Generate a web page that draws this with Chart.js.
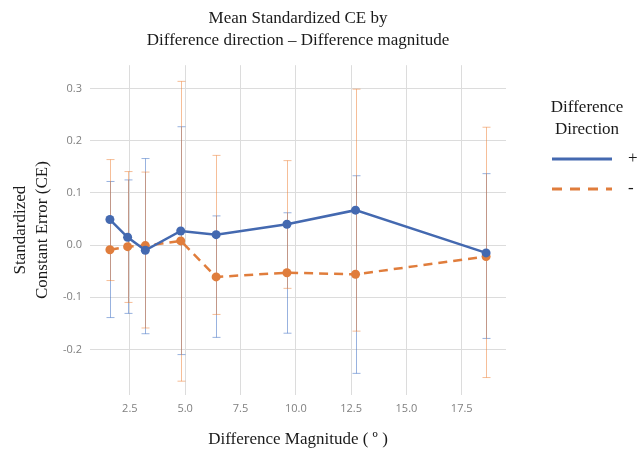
<!DOCTYPE html>
<html>
<head>
<meta charset="utf-8">
<title>Mean Standardized CE</title>
<script src="https://cdn.jsdelivr.net/npm/chart.js@4"></script>
<style>
  html, body { margin: 0; padding: 0; background: #fff; }
  #wrap { position: relative; width: 639px; height: 459px; }
</style>
</head>
<body>
<div id="wrap"><canvas id="ce-chart" width="639" height="459"></canvas></div>
<script>
// difference magnitude (degrees)
const magnitudes = [1.6, 2.4, 3.2, 4.8, 6.4, 9.6, 12.7, 18.6];

// direction "+"
const plusMean  = [0.049, 0.015, -0.010, 0.027, 0.020, 0.040, 0.067, -0.015];
const plusUpper = [0.122, 0.125, 0.166, 0.227, 0.056, 0.062, 0.133, 0.137];
const plusLower = [-0.139, -0.131, -0.170, -0.210, -0.177, -0.169, -0.246, -0.179];

// direction "-"
const minusMean  = [-0.009, -0.003, -0.001, 0.008, -0.061, -0.053, -0.056, -0.022];
const minusUpper = [0.164, 0.141, 0.140, 0.314, 0.172, 0.162, 0.299, 0.226];
const minusLower = [-0.068, -0.110, -0.159, -0.261, -0.133, -0.083, -0.165, -0.254];

const directionLabels = ['+', '-'];
const legendTitle = ['Difference', 'Direction'];

const blue = '#4469b0';
const orange = '#e07d3c';
const serif = "'Liberation Serif', 'DejaVu Serif', serif";
const sans = "'Open Sans', 'Noto Sans', sans-serif";

function toPoints(xs, ys) {
    return xs.map((x, i) => ({ x: x, y: ys[i] }));
}

// error bars, drawn under the lines
const errorBars = {
    id: 'errorBars',
    beforeDatasetsDraw(chart) {
        const ctx = chart.ctx;
        const xs = chart.scales.x;
        const ys = chart.scales.y;
        chart.data.datasets.forEach(ds => {
            ctx.save();
            ctx.strokeStyle = ds.errColor;
            ctx.lineWidth = 1;
            ds.data.forEach((p, i) => {
                const px = Math.round(xs.getPixelForValue(p.x)) + 0.5;
                const top = ys.getPixelForValue(ds.upper[i]);
                const bot = ys.getPixelForValue(ds.lower[i]);
                ctx.beginPath();
                ctx.moveTo(px, top);
                ctx.lineTo(px, bot);
                ctx.moveTo(px - 4, top);
                ctx.lineTo(px + 4, top);
                ctx.moveTo(px - 4, bot);
                ctx.lineTo(px + 4, bot);
                ctx.stroke();
            });
            ctx.restore();
        });
    }
};

// legend on the right side
const sideLegend = {
    id: 'sideLegend',
    afterDraw(chart) {
        const ctx = chart.ctx;
        const left = chart.chartArea.right + 46;
        const cx = left + 35;
        ctx.save();
        ctx.fillStyle = '#1a1a1a';
        ctx.font = '17px ' + serif;
        ctx.textAlign = 'center';
        ctx.textBaseline = 'middle';
        legendTitle.forEach((t, i) => ctx.fillText(t, cx, 108 + i * 22));
        chart.data.datasets.forEach((ds, i) => {
            const y = 159 + i * 30;
            ctx.strokeStyle = ds.borderColor;
            ctx.lineWidth = 3;
            ctx.setLineDash(ds.legendDash || []);
            ctx.beginPath();
            ctx.moveTo(left, y);
            ctx.lineTo(left + 60, y);
            ctx.stroke();
            ctx.setLineDash([]);
            ctx.textAlign = 'left';
            ctx.fillText(directionLabels[i], left + 76, y);
        });
        ctx.restore();
    }
};

const ctx = document.getElementById('ce-chart').getContext('2d');
new Chart(ctx, {
    type: 'line',
    data: {
        datasets: [
            {
                label: directionLabels[0],
                data: toPoints(magnitudes, plusMean),
                upper: plusUpper,
                lower: plusLower,
                errColor: 'rgba(68, 114, 196, 0.55)',
                borderColor: blue,
                backgroundColor: blue,
                borderWidth: 2.5,
                pointRadius: 4.5,
                pointBorderWidth: 0,
                tension: 0
            },
            {
                label: directionLabels[1],
                data: toPoints(magnitudes, minusMean),
                upper: minusUpper,
                lower: minusLower,
                errColor: 'rgba(237, 125, 49, 0.5)',
                borderColor: orange,
                backgroundColor: orange,
                borderWidth: 2.5,
                borderDash: [9, 6],
                legendDash: [10, 8],
                pointRadius: 4.5,
                pointBorderWidth: 0,
                tension: 0
            }
        ]
    },
    options: {
        responsive: false,
        animation: false,
        layout: { padding: { left: 0, right: 133, top: 0, bottom: 0 } },
        plugins: {
            legend: { display: false },
            tooltip: { enabled: false },
            title: {
                display: true,
                fullSize: false,
                text: ['Mean Standardized CE by', 'Difference direction \u2013 Difference magnitude'],
                color: '#1a1a1a',
                font: { family: serif, size: 17, weight: 'normal', lineHeight: 1.3 },
                padding: { top: 7, bottom: 14 }
            }
        },
        scales: {
            x: {
                type: 'linear',
                min: 0.7,
                max: 19.5,
                afterFit(scale) { scale.height = 64; },
                border: { display: false },
                grid: { color: '#dcdcdc', drawTicks: false },
                ticks: {
                    stepSize: 2.5,
                    includeBounds: false,
                    padding: 7,
                    color: '#808080',
                    font: { family: sans, size: 11 },
                    callback: v => v.toFixed(1)
                },
                title: {
                    display: true,
                    text: 'Difference Magnitude ( \u00ba )',
                    color: '#1a1a1a',
                    font: { family: serif, size: 17, lineHeight: 1.3 },
                    padding: { top: 0, bottom: 8 }
                }
            },
            y: {
                min: -0.2875,
                max: 0.345,
                afterFit(scale) { scale.width = 90; },
                border: { display: false },
                grid: { color: '#dcdcdc', drawTicks: false },
                ticks: {
                    stepSize: 0.1,
                    includeBounds: false,
                    padding: 8,
                    color: '#808080',
                    font: { family: sans, size: 11 },
                    callback: v => v.toFixed(1)
                },
                title: {
                    display: true,
                    text: ['Standardized', 'Constant Error (CE)'],
                    color: '#1a1a1a',
                    font: { family: serif, size: 17, lineHeight: 1.3 },
                    padding: { top: 9, bottom: 0 }
                }
            }
        }
    },
    plugins: [errorBars, sideLegend]
});
</script>
</body>
</html>
